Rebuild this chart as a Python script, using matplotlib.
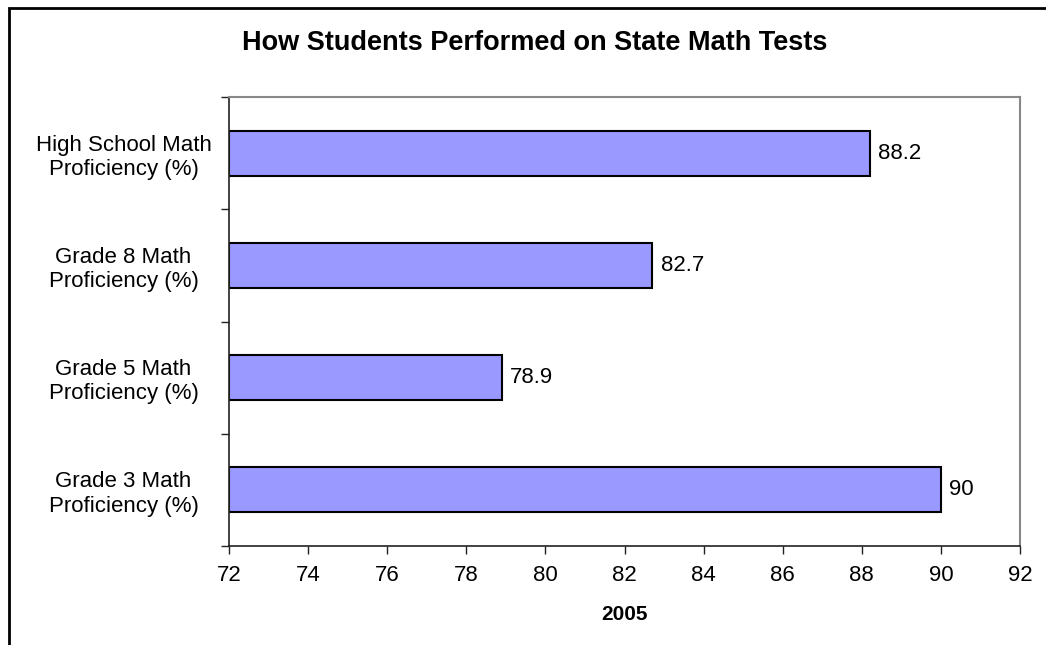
import matplotlib
matplotlib.use('Agg')
import matplotlib.pyplot as plt
from matplotlib.patches import Rectangle
from matplotlib.ticker import FixedLocator

plt.rcParams['font.family'] = ['Liberation Sans', 'DejaVu Sans']

categories = ['Grade 3 Math\nProficiency (%)', 'Grade 5 Math\nProficiency (%)',
              'Grade 8 Math\nProficiency (%)', 'High School Math\nProficiency (%)']
values = [90, 78.9, 82.7, 88.2]
value_labels = ['90', '78.9', '82.7', '88.2']
xticks = [72, 74, 76, 78, 80, 82, 84, 86, 88, 90, 92]

W, H = 1046, 645
fig = plt.figure(figsize=(W / 100, H / 100), dpi=100)
ax = fig.add_axes([229 / W, 1 - 546 / H, (1020 - 229) / W, (546 - 97) / H])

pos = range(len(categories))
ax.barh(pos, [v - 72 for v in values], left=72, height=0.4,
        color='#9999FF', edgecolor='black', linewidth=1.5)
for p, v, s in zip(pos, values, value_labels):
    ax.annotate(s, (v, p), xytext=(6, 0), textcoords='offset points',
                va='center', ha='left', fontsize=16)

ax.set_xlim(72, 92)
ax.set_ylim(-0.5, 3.5)
ax.set_xticks(xticks)
ax.set_xticklabels([str(t) for t in xticks], fontsize=16)
ax.set_yticks(list(pos))
ax.set_yticklabels(categories, fontsize=16, ha='center', multialignment='center')
ax.yaxis.set_minor_locator(FixedLocator([-0.5, 0.5, 1.5, 2.5, 3.5]))
ax.tick_params(axis='y', which='major', length=0, pad=76)
ax.tick_params(axis='y', which='minor', length=6, width=1, direction='out', color='#222222')
ax.tick_params(axis='x', length=6, width=1, direction='out', color='#222222', pad=8)
ax.set_xlabel('2005', fontsize=15, fontweight='bold', labelpad=13)

for s in ['top', 'right']:
    ax.spines[s].set_color('#888888')
    ax.spines[s].set_linewidth(1.5)
for s in ['left', 'bottom']:
    ax.spines[s].set_color('#222222')
    ax.spines[s].set_linewidth(1.2)

fig.text(535 / W, 1 - 43 / H, 'How Students Performed on State Math Tests',
         ha='center', va='center', fontsize=19.5, fontweight='bold')

fig.patches.append(Rectangle((9 / W, -0.05), 1.1, 1 - 8 / H + 0.05,
                             transform=fig.transFigure, fill=False,
                             edgecolor='black', linewidth=2))

fig.savefig('out.png', dpi=100)
